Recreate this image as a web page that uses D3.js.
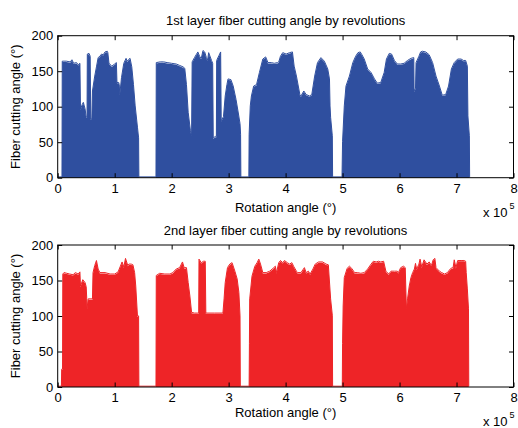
<!DOCTYPE html>
<html>
<head>
<meta charset="utf-8">
<script src="https://cdn.jsdelivr.net/npm/d3@7"></script>
<style>
  body { margin: 0; background: #fff; }
  text { font-family: "Liberation Sans", Arial, sans-serif; fill: #000; }
</style>
</head>
<body>
<svg id="chart" width="518" height="428"></svg>
<script>
// rotation angle in units of 1e5 degrees
const xTicks = [0, 1, 2, 3, 4, 5, 6, 7, 8];
const yTicks = [0, 50, 100, 150, 200];

const titles = ["1st layer fiber cutting angle by revolutions",
                "2nd layer fiber cutting angle by revolutions"];

// 1st layer (blue)
const layer1Rot = [0, 0.075, 0.08, 0.15, 0.22, 0.25, 0.28, 0.33, 0.36, 0.39, 0.40, 0.43, 0.45, 0.48, 0.50, 0.515,
  0.52, 0.55, 0.57, 0.58, 0.60, 0.61, 0.65, 0.68, 0.71, 0.74, 0.77, 0.80, 0.83, 0.87, 0.88, 0.90, 0.95, 1.00,
  1.03, 1.04, 1.07, 1.08, 1.09, 1.12, 1.16, 1.20, 1.22, 1.24, 1.27, 1.30, 1.33, 1.36, 1.40, 1.42, 1.425,
  1.725, 1.73, 1.80, 1.86, 1.92, 2.00, 2.08, 2.14, 2.20, 2.23, 2.26, 2.29, 2.33, 2.35, 2.36, 2.40, 2.43, 2.46,
  2.49, 2.52, 2.55, 2.58, 2.61, 2.63, 2.65, 2.70, 2.72, 2.73, 2.77, 2.785, 2.79, 2.83, 2.86, 2.87, 2.91, 2.94,
  2.97, 2.99, 3.04, 3.08, 3.13, 3.17, 3.20, 3.21, 3.215,
  3.355, 3.36, 3.38, 3.40, 3.44, 3.49, 3.54, 3.60, 3.65, 3.69, 3.75, 3.80, 3.86, 3.88, 3.91, 3.95, 4.01, 4.07,
  4.12, 4.15, 4.19, 4.25, 4.27, 4.32, 4.36, 4.42, 4.46, 4.51, 4.56, 4.62, 4.68, 4.74, 4.77, 4.78, 4.79, 4.82, 4.825,
  4.99, 5.00, 5.03, 5.06, 5.12, 5.18, 5.23, 5.27, 5.31, 5.34, 5.38, 5.44, 5.50, 5.56, 5.61, 5.67, 5.73, 5.77,
  5.82, 5.86, 5.91, 5.96, 6.02, 6.08, 6.14, 6.20, 6.25, 6.255, 6.28, 6.29, 6.34, 6.37, 6.40, 6.46, 6.52, 6.58,
  6.64, 6.70, 6.75, 6.81, 6.86, 6.91, 6.96, 7.02, 7.08, 7.12, 7.16, 7.19, 7.20, 7.225, 7.23];
const layer1Angle = [0, 0, 163, 163, 162, 165, 160, 161, 158, 160, 95, 102, 105, 96, 84, 84,
  173, 174, 170, 81, 84, 121, 142, 155, 168, 170, 173, 172, 176, 177, 175, 160, 156, 159,
  161, 133, 133, 130, 116, 140, 160, 167, 163, 165, 167, 155, 130, 100, 70, 55, 0,
  0, 161, 162, 162, 161, 160, 159, 157, 155, 153, 130, 91, 65, 58, 162, 168, 172, 176,
  170, 167, 178, 176, 168, 164, 175, 164, 160, 55, 57, 57, 164, 171, 176, 79, 85, 114,
  130, 138, 137, 128, 109, 90, 75, 60, 0,
  0, 60, 100, 114, 128, 130, 147, 166, 169, 161, 161, 160, 161, 162, 170, 175, 173, 175,
  176, 156, 142, 116, 114, 121, 116, 114, 116, 142, 161, 168, 163, 152, 138, 100, 84, 58, 0,
  0, 50, 100, 128, 142, 161, 170, 175, 176, 172, 166, 152, 147, 138, 132, 133, 147, 166,
  174, 173, 164, 159, 159, 160, 164, 167, 168, 121, 125, 161, 170, 176, 177, 176, 172, 161,
  142, 128, 115, 116, 128, 152, 161, 166, 166, 164, 164, 156, 86, 58, 0];

// 2nd layer (red)
const layer2Rot = [0, 0.065, 0.07, 0.085, 0.09, 0.11, 0.16, 0.21, 0.27, 0.31, 0.36, 0.39, 0.40, 0.44, 0.48, 0.50,
  0.51, 0.515, 0.535, 0.61, 0.62, 0.65, 0.68, 0.71, 0.74, 0.83, 0.92, 1.00, 1.06, 1.10, 1.13, 1.16, 1.19, 1.23,
  1.25, 1.29, 1.32, 1.35, 1.37, 1.40, 1.42, 1.425,
  1.725, 1.73, 1.79, 1.88, 1.97, 2.02, 2.08, 2.14, 2.19, 2.22, 2.26, 2.29, 2.32, 2.35, 2.40, 2.46, 2.475, 2.48,
  2.52, 2.56, 2.59, 2.60, 2.75, 2.90, 2.92, 2.94, 2.98, 3.02, 3.06, 3.11, 3.15, 3.18, 3.20, 3.205,
  3.36, 3.365, 3.37, 3.41, 3.46, 3.50, 3.53, 3.56, 3.60, 3.66, 3.72, 3.78, 3.82, 3.84, 3.88, 3.91, 3.95, 3.98,
  4.03, 4.07, 4.11, 4.14, 4.19, 4.21, 4.27, 4.33, 4.36, 4.40, 4.43, 4.48, 4.52, 4.58, 4.65, 4.71, 4.75, 4.79,
  4.82, 4.825,
  4.995, 5.00, 5.01, 5.03, 5.08, 5.12, 5.16, 5.21, 5.26, 5.32, 5.38, 5.44, 5.50, 5.54, 5.59, 5.63, 5.67, 5.72,
  5.76, 5.81, 5.85, 5.91, 5.96, 5.98, 6.02, 6.07, 6.10, 6.12, 6.14, 6.17, 6.20, 6.23, 6.26, 6.28, 6.30, 6.34,
  6.36, 6.39, 6.43, 6.48, 6.52, 6.56, 6.59, 6.62, 6.64, 6.70, 6.74, 6.79, 6.84, 6.90, 6.94, 6.96, 6.99, 7.02,
  7.08, 7.13, 7.16, 7.17, 7.19, 7.21, 7.215];
const layer2Angle = [0, 0, 24, 24, 158, 160, 159, 158, 157, 160, 158, 161, 141, 150, 146, 140,
  123, 109, 123, 123, 160, 170, 177, 165, 160, 160, 158, 158, 161, 169, 175, 168, 180, 170,
  172, 172, 171, 160, 141, 99, 99, 0,
  0, 156, 159, 158, 158, 160, 165, 167, 175, 167, 167, 146, 127, 104, 103, 103, 103, 179,
  174, 176, 176, 103, 103, 103, 123, 146, 167, 172, 174, 162, 151, 132, 99, 0,
  0, 60, 123, 155, 169, 174, 179, 172, 160, 160, 162, 166, 169, 160, 174, 177, 174, 177,
  174, 172, 174, 169, 162, 160, 160, 167, 160, 162, 158, 165, 172, 175, 175, 172, 171, 123,
  100, 0,
  0, 60, 113, 153, 166, 169, 166, 160, 160, 159, 160, 165, 172, 176, 175, 176, 175, 176,
  162, 158, 162, 162, 162, 160, 167, 169, 167, 109, 123, 141, 153, 160, 165, 173, 165, 172,
  179, 168, 178, 172, 175, 170, 178, 180, 167, 162, 160, 158, 160, 166, 167, 178, 167, 177,
  177, 177, 176, 160, 137, 109, 0];

const svg = d3.select("#chart");
const left = 57.7, right = 513.5;

const x = d3.scaleLinear().domain([0, 8]).range([left, right]);

function drawPanel(top, bottom, title, rot, angle, color, xLabelY) {
    const y = d3.scaleLinear().domain([0, 200]).range([bottom, top]);
    const data = rot.map((r, i) => ({ r: r, a: angle[i] }));
    const g = svg.append("g");

    const area = d3.area()
        .x(d => x(d.r))
        .y0(y(0))
        .y1(d => y(d.a));
    g.append("path")
        .datum(data)
        .attr("d", area)
        .attr("fill", color);

    // outline, also shows the zero line in the gaps
    const line = d3.line()
        .x(d => x(d.r))
        .y(d => y(d.a) - 0.8);
    g.append("path")
        .datum(data)
        .attr("d", line)
        .attr("fill", "none")
        .attr("stroke", color)
        .attr("stroke-width", 1);

    // axes with inward ticks, MATLAB box style
    const tick = 4.5;
    const bx = g.append("g")
        .attr("transform", "translate(0," + bottom + ")")
        .call(d3.axisBottom(x).tickValues(xTicks).tickSizeInner(-tick).tickSizeOuter(0).tickPadding(6));
    const tx = g.append("g")
        .attr("transform", "translate(0," + top + ")")
        .call(d3.axisTop(x).tickValues(xTicks).tickSizeInner(-tick).tickSizeOuter(0).tickFormat(""));
    const ly = g.append("g")
        .attr("transform", "translate(" + left + ",0)")
        .call(d3.axisLeft(y).tickValues(yTicks).tickSizeInner(-tick).tickSizeOuter(0).tickPadding(4.5));
    const ry = g.append("g")
        .attr("transform", "translate(" + right + ",0)")
        .call(d3.axisRight(y).tickValues(yTicks).tickSizeInner(-tick).tickSizeOuter(0).tickFormat(""));
    [bx, tx, ly, ry].forEach(a => {
        a.select(".domain").remove();
        a.selectAll(".tick line").attr("stroke", "#000");
        a.selectAll("text")
            .style("font-family", "Liberation Sans, Arial, sans-serif")
            .style("font-size", "13px")
            .attr("fill", "#000");
    });

    g.append("rect")
        .attr("x", left)
        .attr("y", top)
        .attr("width", right - left)
        .attr("height", bottom - top)
        .attr("fill", "none")
        .attr("stroke", "#000")
        .attr("stroke-width", 1);

    g.append("text")
        .attr("x", (left + right) / 2)
        .attr("y", top - 10.5)
        .attr("text-anchor", "middle")
        .style("font-size", "13px")
        .text(title);

    g.append("text")
        .attr("x", (left + right) / 2)
        .attr("y", xLabelY)
        .attr("text-anchor", "middle")
        .style("font-size", "13px")
        .text("Rotation angle (°)");

    g.append("text")
        .attr("transform", "translate(19.5," + ((top + bottom) / 2) + ")rotate(-90)")
        .attr("text-anchor", "middle")
        .style("font-size", "13px")
        .text("Fiber cutting angle (°)");

    const ex = g.append("text")
        .attr("x", 483)
        .attr("y", bottom + 39)
        .style("font-size", "13px");
    ex.append("tspan").text("x 10");
    ex.append("tspan")
        .attr("dx", 2)
        .attr("dy", -8)
        .style("font-size", "9px")
        .text("5");
}

drawPanel(35.7, 177.7, titles[0], layer1Rot, layer1Angle, "#2f4f9f", 211.5);
drawPanel(245, 387, titles[1], layer2Rot, layer2Angle, "#ee2427", 417);
</script>
</body>
</html>
